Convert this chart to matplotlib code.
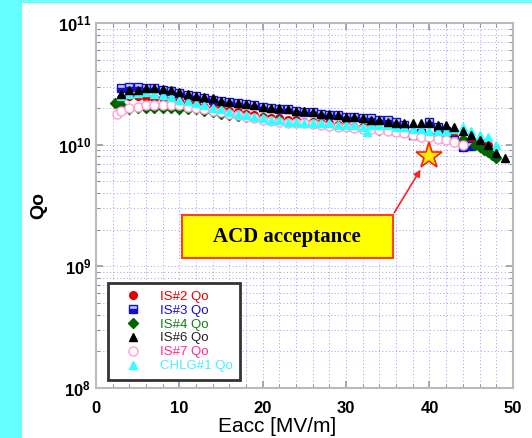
import numpy as np
import matplotlib
matplotlib.use("Agg")
import matplotlib.pyplot as plt
from matplotlib.patches import Rectangle
from matplotlib.ticker import MultipleLocator, LogLocator, NullFormatter

plt.rcParams['font.family'] = ['Liberation Sans', 'DejaVu Sans']
plt.rcParams['mathtext.fontset'] = 'custom'
plt.rcParams['mathtext.bf'] = 'Liberation Sans:bold'
plt.rcParams['mathtext.rm'] = 'Liberation Sans'

# Qo in units of 1e10, Eacc in MV/m
is2_x = [2.5, 3, 4, 5, 6, 7, 8, 9, 10, 11, 12, 13, 14, 15, 16, 17, 18, 19, 20, 21, 22, 23, 24,
         25, 26, 27, 28, 29, 30, 31, 32, 33, 34, 35, 36, 37, 38, 39, 40, 41, 42, 43, 44, 45, 46, 47]
is2_q = [2.2, 2.4, 2.5, 2.5, 2.45, 2.4, 2.4, 2.35, 2.3, 2.2, 2.15, 2.05, 2.0, 1.95, 1.9, 1.85,
         1.8, 1.75, 1.7, 1.65, 1.65, 1.6, 1.6, 1.55, 1.55, 1.5, 1.5, 1.45, 1.45, 1.4, 1.4, 1.4,
         1.35, 1.35, 1.3, 1.3, 1.25, 1.2, 1.2, 1.2, 1.15, 1.15, 1.1, 1.05, 1.05, 1.0]

is3_x = [3, 4, 5, 6, 7, 8, 9, 10, 11, 12, 13, 14, 15, 16, 17, 18, 19, 20, 21, 22, 23, 24, 25,
         26, 27, 28, 29, 30, 31, 32, 33, 34, 35, 36, 37, 38, 39, 40, 41, 42, 43, 44, 45]
is3_q = [2.9, 3.0, 3.0, 2.95, 2.9, 2.8, 2.75, 2.65, 2.55, 2.5, 2.4, 2.35, 2.3, 2.25, 2.2, 2.15,
         2.1, 2.05, 2.0, 1.95, 1.95, 1.9, 1.85, 1.85, 1.8, 1.75, 1.75, 1.7, 1.7, 1.65, 1.65, 1.6,
         1.6, 1.55, 1.45, 1.2, 1.25, 1.55, 1.4, 1.3, 1.1, 0.95, 0.98]

is4_x = [2.3, 3, 4, 5, 6, 7, 8, 9, 10, 11, 12, 13, 14, 15, 16, 17, 18, 20, 22, 24, 26, 28, 30,
         32, 34, 36, 38, 40, 42, 44, 45.5, 46, 46.5, 47, 47.5, 48]
is4_q = [2.2, 2.1, 1.95, 2.0, 2.0, 2.0, 2.0, 2.0, 1.95, 1.95, 1.95, 1.9, 1.85, 1.8, 1.75, 1.72,
         1.7, 1.65, 1.6, 1.55, 1.5, 1.45, 1.42, 1.38, 1.33, 1.3, 1.25, 1.2, 1.15, 1.1, 1.0, 0.95,
         0.9, 0.87, 0.82, 0.78]

is6_x = [3, 4, 5, 6, 7, 8, 9, 10, 11, 12, 13, 14, 15, 16, 17, 18, 19, 20, 21, 22, 23, 24, 25,
         26, 27, 28, 29, 30, 31, 32, 33, 34, 35, 36, 37, 38, 39, 40, 41, 42, 43, 44, 45, 46, 47,
         48, 49]
is6_q = [2.6, 2.8, 2.8, 2.9, 2.9, 2.85, 2.8, 2.7, 2.6, 2.5, 2.45, 2.4, 2.3, 2.25, 2.2, 2.15,
         2.1, 2.05, 2.0, 2.0, 1.95, 1.9, 1.9, 1.85, 1.8, 1.8, 1.75, 1.7, 1.7, 1.65, 1.6, 1.6, 1.55,
         1.5, 1.5, 1.5, 1.5, 1.5, 1.45, 1.45, 1.4, 1.3, 1.2, 1.1, 1.0, 0.85, 0.78]

is7_x = [2.5, 3, 4, 5, 6, 7, 8, 9, 10, 11, 12, 13, 14, 15, 16, 17, 18, 19, 20, 21, 22, 23, 24,
         25, 26, 27, 28, 29, 30, 31, 32, 33, 34, 35, 36, 37, 38, 39, 40, 41, 42, 43, 44]
is7_q = [1.8, 1.9, 2.0, 2.05, 2.1, 2.1, 2.1, 2.1, 2.1, 2.05, 2.0, 1.95, 1.9, 1.85, 1.8, 1.75,
         1.7, 1.65, 1.6, 1.58, 1.55, 1.52, 1.5, 1.5, 1.48, 1.45, 1.42, 1.4, 1.4, 1.38, 1.35, 1.35,
         1.32, 1.3, 1.28, 1.25, 1.2, 1.15, 1.15, 1.12, 1.1, 1.05, 1.0]

chlg_x = [3, 4, 5, 6, 7, 8, 9, 10, 11, 12, 13, 14, 15, 16, 17, 18, 19, 20, 21, 22, 23, 24, 25,
          26, 27, 28, 29, 30, 31, 32, 32.5, 33, 34, 35, 36, 37, 38, 39, 40, 41, 42, 43, 44, 45,
          46, 47, 48]
chlg_q = [2.5, 2.6, 2.65, 2.7, 2.6, 2.55, 2.45, 2.35, 2.3, 2.2, 2.1, 2.0, 1.95, 1.85, 1.8, 1.75,
          1.7, 1.65, 1.6, 1.6, 1.55, 1.55, 1.5, 1.5, 1.5, 1.5, 1.45, 1.45, 1.45, 1.4, 1.27, 1.45,
          1.45, 1.45, 1.4, 1.4, 1.35, 1.35, 1.3, 1.3, 1.3, 1.35, 1.4, 1.3, 1.2, 1.15, 1.0]

acd_x = [40]
acd_q = [0.81]

labels = ['IS#2 Qo', 'IS#3 Qo', 'IS#4 Qo', 'IS#6 Qo', 'IS#7 Qo', 'CHLG#1 Qo']
colors = ['#e00000', '#1010d0', '#006400', '#000000', '#ff3fa0', '#33ffff']

fig = plt.figure(figsize=(5.32, 4.38), dpi=100)
fig.patch.set_facecolor('white')
fig.patches.append(Rectangle((0, 0), 22 / 532, 1, transform=fig.transFigure,
                             facecolor='#66ffff', edgecolor='none', zorder=0))
fig.patches.append(Rectangle((0, 1 - 3 / 438), 1, 3 / 438, transform=fig.transFigure,
                             facecolor='#66ffff', edgecolor='none', zorder=0))

ax = fig.add_axes([0.1805, 0.114, 0.7835, 0.8335])
ax.set_yscale('log')

e = 1e10
ax.plot(is2_x, np.array(is2_q) * e, 'o', color=colors[0], ms=5.5, mec=colors[0], label=labels[0])
ax.plot(is3_x, np.array(is3_q) * e, 's', color=colors[1], ms=5.5, fillstyle='bottom',
        markerfacecoloralt='#c8c8ff', mec=colors[1], label=labels[1])
ax.plot(is4_x, np.array(is4_q) * e, 'D', color=colors[2], ms=5, mec=colors[2], label=labels[2])
ax.plot(is7_x, np.array(is7_q) * e, 'o', mfc='white', mec='#ff9fd0', ms=6.5, mew=1.0,
        linestyle='none', label=labels[4])
ax.plot(chlg_x, np.array(chlg_q) * e, '^', color=colors[5], ms=6, mec=colors[5], label=labels[5])
ax.plot(is6_x, np.array(is6_q) * e, '^', color=colors[3], ms=5.5, mec=colors[3], label=labels[3])

ax.plot(acd_x, np.array(acd_q) * e, '*', ms=20, mfc='#ffee00', mec='#ff2000', mew=1.2, zorder=5)

ax.set_xlim(0, 50)
ax.set_ylim(1e8, 1e11)

ax.xaxis.set_major_locator(MultipleLocator(10))
ax.xaxis.set_minor_locator(MultipleLocator(2))
ax.yaxis.set_major_locator(LogLocator(base=10, numticks=10))
ax.yaxis.set_minor_locator(LogLocator(base=10, subs=np.arange(2, 10), numticks=10))
ax.yaxis.set_minor_formatter(NullFormatter())

ax.set_yticks([1e8, 1e9, 1e10, 1e11])
ax.set_yticklabels([r'$\mathbf{10^{8}}$', r'$\mathbf{10^{9}}$', r'$\mathbf{10^{10}}$',
                    r'$\mathbf{10^{11}}$'], fontsize=12)
for t in ax.get_xticklabels():
    t.set_fontweight('bold')
    t.set_fontsize(12)

ax.grid(True, which='both', color='#9a9aff', linestyle=(0, (1, 2.5)), linewidth=0.7)
ax.tick_params(which='both', direction='in', top=True, right=True, colors='#999999',
               labelcolor='black')
ax.tick_params(which='major', length=5, width=1.2)
ax.tick_params(which='minor', length=3, width=0.8)
ax.tick_params(axis='x', pad=9)
for s in ax.spines.values():
    s.set_color('#bbbbbb')
    s.set_linewidth(1.5)

ax.set_xlabel('Eacc [MV/m]', fontsize=15)
ax.xaxis.set_label_coords(0.434, -0.078)
ax.set_ylabel('Qo', fontsize=14, fontweight='bold')
ax.yaxis.set_label_coords(-0.1175, 0.5)

handles, labs = ax.get_legend_handles_labels()
order = [labs.index(l) for l in labels]
leg = ax.legend([handles[i] for i in order], [labs[i] for i in order],
                loc='lower left', bbox_to_anchor=(0.029, 0.022), fontsize=9.5,
                frameon=True, fancybox=False, framealpha=1, edgecolor='#333333',
                borderpad=0.6, labelspacing=0.12, handlelength=2.6, handletextpad=0.7,
                borderaxespad=0)
leg.get_frame().set_linewidth(2)
for txt, c in zip(leg.get_texts(), ['#e00000', '#1010d0', '#1a7a1a', '#222222', '#ff2a90', '#44f0ff']):
    txt.set_color(c)

ax.add_patch(Rectangle((0.206, 0.356), 0.506, 0.118, transform=ax.transAxes,
                       facecolor='#ffff00', edgecolor='#ff4020', linewidth=1.5, zorder=6))
ax.text(0.459, 0.415, 'ACD acceptance', transform=ax.transAxes, ha='center', va='center',
        fontsize=15, fontweight='bold', family='Liberation Serif', zorder=7)
ax.annotate('', xy=(0.782, 0.605), xytext=(0.712, 0.474), xycoords='axes fraction',
            textcoords='axes fraction',
            arrowprops=dict(arrowstyle='-|>', color='#ff2020', lw=1.2, mutation_scale=10),
            zorder=6)

fig.savefig('out.png', dpi=100)
